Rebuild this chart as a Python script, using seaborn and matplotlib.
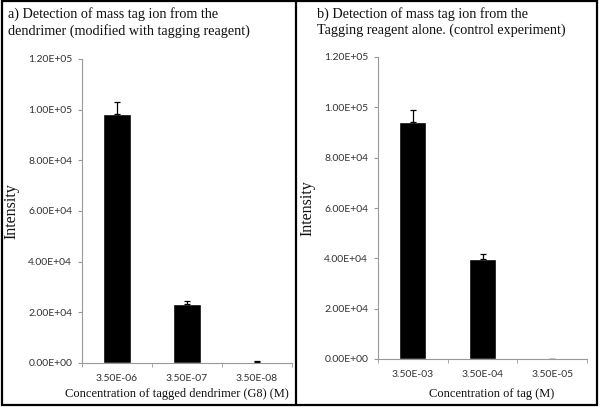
import pandas as pd
import seaborn as sns
import matplotlib
matplotlib.use("Agg")
import matplotlib.pyplot as plt
from matplotlib.ticker import FuncFormatter, FixedLocator
from matplotlib.patches import Rectangle
from matplotlib.lines import Line2D

# panel a: tagged dendrimer
dend_conc = ["3.50E-06", "3.50E-07", "3.50E-08"]
dend_intensity = [98200, 23200, 500]
dend_err = [4700, 1400, 300]

# panel b: tagging reagent alone
tag_conc = ["3.50E-03", "3.50E-04", "3.50E-05"]
tag_intensity = [94200, 39800, 0]
tag_err = [4900, 2100, 0]

sns.set_style("white")
SERIF = ["Liberation Serif", "DejaVu Serif"]
SANS = ["Lato", "DejaVu Sans"]
plt.rcParams["font.family"] = SANS

W, H = 600, 408
fig = plt.figure(figsize=(6, 4.08), dpi=100)


def sci(v, pos):
    return f"{v:.2E}"


def draw_panel(rect, cats, vals, errs, title, title_x, xlabel, xlab_x, ylab_x):
    x0, y0, x1, y1 = rect
    ax = fig.add_axes([x0 / W, 1 - y0 / H, (x1 - x0) / W, (y0 - y1) / H])
    df = pd.DataFrame({"conc": cats, "intensity": vals})
    sns.barplot(data=df, x="conc", y="intensity", color="black",
                width=0.39, errorbar=None, ax=ax, saturation=1)
    ax.errorbar(range(len(cats)), vals, yerr=[[0] * len(errs), errs],
                fmt="none", ecolor="black", elinewidth=0.9, capsize=2.5,
                capthick=0.9)
    ax.set_ylim(0, 120000)
    ax.set_xlim(-0.5, len(cats) - 0.5)
    ax.set_yticks(range(0, 120001, 20000))
    ax.yaxis.set_major_formatter(FuncFormatter(sci))
    ax.xaxis.set_minor_locator(FixedLocator([i - 0.5 for i in range(len(cats) + 1)]))
    ax.tick_params(axis="x", which="major", length=0, pad=8, labelsize=7.5,
                   labelcolor="#333333")
    ax.tick_params(axis="x", which="minor", length=3, color="#999999",
                   direction="out", bottom=True)
    ax.tick_params(axis="y", length=3, color="#999999", direction="out",
                   left=True, labelsize=7.5, labelcolor="#333333", pad=4)
    for lab in ax.get_xticklabels() + ax.get_yticklabels():
        lab.set_family(SANS)
    for s in ["top", "right"]:
        ax.spines[s].set_visible(False)
    for s in ["left", "bottom"]:
        ax.spines[s].set_color("#999999")
        ax.spines[s].set_linewidth(0.8)
    ax.set_ylabel("Intensity", family=SERIF, fontsize=11.5, color="#111111")
    ax.yaxis.set_label_coords((ylab_x - x0) / (x1 - x0), 0.5)
    ax.set_xlabel(xlabel, family=SERIF, fontsize=9, color="#111111")
    ax.xaxis.label.set_va("center")
    ax.xaxis.set_label_coords((xlab_x - x0) / (x1 - x0), (y0 - 394) / (y0 - y1))
    fig.text(title_x / W, 1 - 7 / H, title, family=SERIF, fontsize=10.2,
             va="top", ha="left", linespacing=1.25, color="#111111")
    return ax


draw_panel((82, 363, 292, 59), dend_conc, dend_intensity, dend_err,
           "a) Detection of mass tag ion from the\n"
           "dendrimer (modified with tagging reagent)", 8,
           "Concentration of tagged dendrimer (G8) (M)", 177, 19)
draw_panel((378, 359, 587, 57), tag_conc, tag_intensity, tag_err,
           "b) Detection of mass tag ion from the\n"
           "Tagging reagent alone. (control experiment)", 317,
           "Concentration of tag (M)", 492, 315)

# panel frames
fig.add_artist(Rectangle((1.5 / W, 3 / H), 595 / W, 404 / H, fill=False,
                         edgecolor="black", linewidth=1.6,
                         transform=fig.transFigure))
fig.add_artist(Line2D([296 / W, 296 / W], [3 / H, 1], color="black",
                      linewidth=1.6, transform=fig.transFigure))

fig.savefig("out.png", dpi=100)
